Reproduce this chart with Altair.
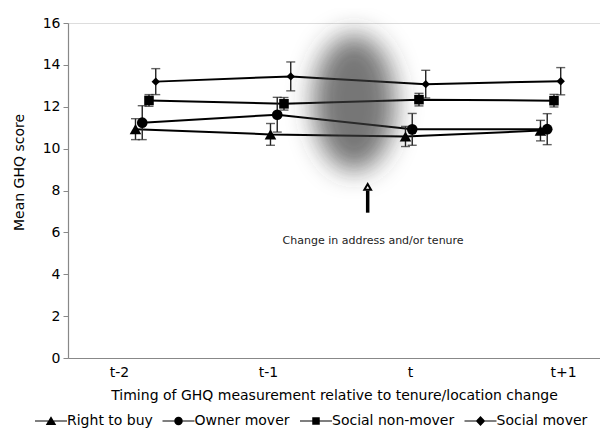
import urllib.parse
import altair as alt
import pandas as pd

# ---------------- data ----------------
periods = ["t-2", "t-1", "t", "t+1"]
series = ["Right to buy", "Owner mover", "Social non-mover", "Social mover"]

right_to_buy = [10.93, 10.68, 10.58, 10.86]
right_to_buy_err = [0.50, 0.52, 0.48, 0.49]
owner_mover = [11.24, 11.62, 10.92, 10.93]
owner_mover_err = [0.81, 0.83, 0.76, 0.74]
social_non_mover = [12.30, 12.14, 12.34, 12.29]
social_non_mover_err = [0.28, 0.30, 0.30, 0.30]
social_mover = [13.20, 13.45, 13.08, 13.22]
social_mover_err = [0.62, 0.69, 0.66, 0.65]

y_ticks = [0, 2, 4, 6, 8, 10, 12, 14, 16]
label_pos = [-0.122, 0.981, 2.033, 3.167]   # where the period labels sit on the axis

annotation_text = ["Change in address and/or tenure"]

# ---------------- styling ----------------
dodge = [0.0, 0.05, 0.10, 0.15]
shapes = ["triangle-up", "circle", "square", "diamond"]
sizes = [135, 70, 70, 110]
legend_paths = [
    "M-3.2,-0.12H3.2V0.12H-3.2Z M0,-0.95L1.05,0.8H-1.05Z",
    "M-3.2,-0.12H3.2V0.12H-3.2Z M0.85,0A0.85,0.85,0,1,1,-0.85,0A0.85,0.85,0,1,1,0.85,0Z",
    "M-3.2,-0.12H3.2V0.12H-3.2Z M-0.75,-0.75H0.75V0.75H-0.75Z",
    "M-3.2,-0.12H3.2V0.12H-3.2Z M0,-1L0.95,0L0,1L-0.95,0Z",
]
FONT = "DejaVu Sans"

means = [right_to_buy, owner_mover, social_non_mover, social_mover]
errs = [right_to_buy_err, owner_mover_err, social_non_mover_err, social_mover_err]

rows = []
for k, s in enumerate(series):
    for i, p in enumerate(periods):
        m, e = means[k][i], errs[k][i]
        rows.append({"series": s, "period": p, "x": i + dodge[k], "y": m,
                     "lo": m - e, "hi": m + e, "order": k})
df = pd.DataFrame(rows)

# annotation positions (data coordinates)
shadow_df = pd.DataFrame({"x": [1.62], "y": [12.19]})
arrow_df = pd.DataFrame({"x": [1.72], "y": [6.94], "y2": [8.0]})
head_df = pd.DataFrame({"x": [1.72], "y": [8.17]})
text_df = pd.DataFrame({"x": [1.76], "y": [5.57], "text": annotation_text})

label_expr = ""
for pos, lab in zip(label_pos, periods):
    label_expr += f"abs(datum.value - ({pos})) < 0.3 ? '{lab}' : "
label_expr += "''"

xscale = alt.Scale(domain=[-0.5, 3.441], nice=False, zero=False)
yscale = alt.Scale(domain=[0, 16], nice=False, zero=True)

xaxis = alt.Axis(values=label_pos, labelExpr=label_expr, ticks=False, grid=False,
                 domainColor="#888888", domainWidth=1.2, labelFont=FONT, labelFontSize=14,
                 labelColor="black", labelPadding=7, labelFlush=False, labelOverlap=False,
                 title="Timing of GHQ measurement relative to tenure/location change",
                 titleFont=FONT, titleFontSize=14, titleFontWeight="normal",
                 titleColor="black", titleBaseline="top", titleY=30)
yaxis = alt.Axis(values=y_ticks, tickSize=5, tickColor="#888888", domainColor="#888888",
                 domainWidth=1.2, grid=False, labelFont=FONT, labelFontSize=14,
                 labelColor="black", labelPadding=3,
                 title="Mean GHQ score", titleFont=FONT, titleFontSize=14,
                 titleFontWeight="normal", titleColor="black", titleX=-42, titleY=149)


def X(field="x"):
    return alt.X(f"{field}:Q", scale=xscale, axis=xaxis, title=xaxis.title)


def Y(field="y"):
    return alt.Y(f"{field}:Q", scale=yscale, axis=yaxis, title=yaxis.title)


base = alt.Chart(df)

lines = base.mark_line(color="black", strokeWidth=2).encode(
    x=X(), y=Y(), detail="series:N", order="x:Q")

err_rule = base.mark_rule(color="#222222", strokeWidth=1.4).encode(
    x=X(), y=Y("lo"), y2="hi:Q")
cap_lo = base.mark_tick(color="#222222", thickness=1.4, size=9, orient="horizontal").encode(
    x=X(), y=Y("lo"))
cap_hi = base.mark_tick(color="#222222", thickness=1.4, size=9, orient="horizontal").encode(
    x=X(), y=Y("hi"))

points = base.mark_point(filled=True, color="black", opacity=1).encode(
    x=X(), y=Y(),
    shape=alt.Shape("series:N", scale=alt.Scale(domain=series, range=shapes), legend=None),
    size=alt.Size("series:N", scale=alt.Scale(domain=series, range=sizes), legend=None),
)

legend_layer = base.transform_filter("false").mark_point(filled=True, color="black").encode(
    x=X(), y=Y(),
    shape=alt.Shape(
        "series:N",
        scale=alt.Scale(domain=series, range=legend_paths),
        legend=alt.Legend(
            title=None, orient="none", legendX=-24, legendY=391, direction="horizontal",
            columns=4, symbolSize=100, symbolFillColor="black", symbolStrokeColor="black",
            symbolStrokeWidth=0, symbolOpacity=1, labelFont=FONT, labelFontSize=14,
            labelColor="black", labelOffset=9, columnPadding=9.5, padding=0,
        ),
    ),
)

svg = ("<svg xmlns='http://www.w3.org/2000/svg' width='170' height='230' viewBox='0 0 170 230'>"
       "<defs><filter id='b' x='-50%' y='-50%' width='200%' height='200%'>"
       "<feGaussianBlur stdDeviation='13'/></filter></defs>"
       "<ellipse cx='85' cy='115' rx='41' ry='68' fill='#3a3a3a' fill-opacity='0.7' "
       "filter='url(#b)'/></svg>")
shadow_url = "data:image/svg+xml;charset=utf-8," + urllib.parse.quote(svg)

shadow = alt.Chart(shadow_df).mark_image(width=170, height=230, aspect=False).encode(
    x=X(), y=Y(), url=alt.value(shadow_url))

arrow = alt.Chart(arrow_df).mark_rule(color="black", strokeWidth=3.5).encode(
    x=X(), y=Y(), y2="y2:Q")
head = alt.Chart(head_df).mark_point(shape="triangle-up", filled=True, fill="white",
                                      stroke="black", strokeWidth=2, size=45,
                                      opacity=1).encode(x=X(), y=Y())
note = alt.Chart(text_df).mark_text(font=FONT, fontSize=11, color="#222222").encode(
    x=X(), y=Y(), text="text:N")

chart = alt.layer(lines, err_rule, cap_lo, cap_hi, points, legend_layer, shadow,
                  arrow, head, note).resolve_scale(shape="independent").properties(
    width=532, height=335, autosize="none",
    padding={"left": 60, "top": 15, "right": 0, "bottom": 70},
).configure_view(stroke=None).configure(background="white")

chart.save("out.html", embed_options={"renderer": "svg", "actions": False})
